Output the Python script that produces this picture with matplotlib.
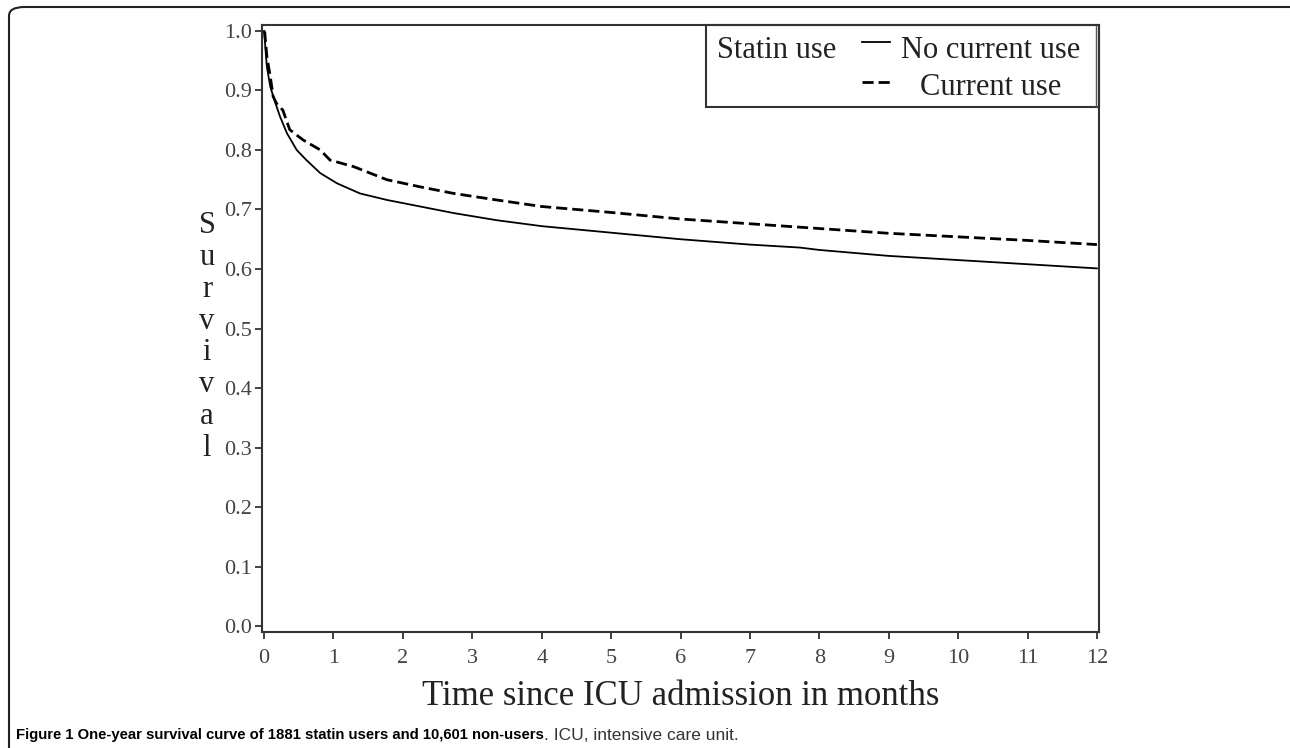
import matplotlib
matplotlib.use('Agg')
import matplotlib.pyplot as plt
from matplotlib.patches import FancyBboxPatch, Rectangle

# Kaplan-Meier estimates (months, survival)
t_no = [0, 0.04, 0.09, 0.16, 0.23, 0.33, 0.47, 0.61, 0.81, 1.05, 1.38, 1.77, 2.25,
        2.73, 3.35, 4, 5, 6, 7, 7.72, 8, 9, 10, 11, 12]
s_no = [1.0, 0.94, 0.906, 0.88, 0.856, 0.828, 0.80, 0.783, 0.761, 0.744, 0.727, 0.716,
        0.705, 0.694, 0.682, 0.672, 0.661, 0.650, 0.641, 0.636, 0.632, 0.622, 0.615,
        0.608, 0.601]

t_cur = [0, 0.01, 0.04, 0.09, 0.13, 0.18, 0.27, 0.37, 0.56, 0.81, 0.95, 1.29, 1.77,
         2.25, 2.73, 3.35, 4, 5, 6, 7, 8, 9, 10, 11, 12]
s_cur = [1.0, 0.997, 0.957, 0.923, 0.89, 0.878, 0.867, 0.834, 0.817, 0.80, 0.783, 0.772,
         0.75, 0.738, 0.727, 0.716, 0.705, 0.695, 0.684, 0.676, 0.668, 0.660, 0.654,
         0.648, 0.641]

xticks = list(range(0, 13))
yticks = [0.0, 0.1, 0.2, 0.3, 0.4, 0.5, 0.6, 0.7, 0.8, 0.9, 1.0]

serif = ['Liberation Serif', 'DejaVu Serif']
sans = ['Liberation Sans', 'DejaVu Sans']

fig = plt.figure(figsize=(12.9, 7.48), dpi=100)
ax = fig.add_axes([262/1290, 1 - 632/748, 837/1290, 607/748])

ax.plot(t_no, s_no, color='black', lw=1.3)
ax.plot(t_cur, s_cur, color='black', lw=2.0, dashes=(4, 1.8))

ax.set_xlim(-0.03, 12.03)
ax.set_ylim(-0.01, 1.01)
ax.set_xticks(xticks)
ax.set_xticklabels([str(v) for v in xticks])
ax.set_yticks(yticks)
ax.set_yticklabels(['%.1f' % v for v in yticks])
for s in ax.spines.values():
    s.set_color('#333333')
    s.set_linewidth(1.5)
ax.tick_params(direction='out', length=5, width=1.3, color='#333333',
               labelcolor='#444444', labelsize=16)
ax.tick_params(axis='y', pad=2)
ax.tick_params(axis='x', pad=7)
for lab in ax.get_xticklabels() + ax.get_yticklabels():
    lab.set_family(serif)

ax.set_xlabel('Time since ICU admission in months', family=serif, fontsize=25,
              color='#222222', labelpad=9)
fig.text(207/1290, 1 - 337/748, '\n'.join('Survival'), family=serif, fontsize=22,
         color='#222222', ha='center', va='center', linespacing=1.13)

# legend box drawn by hand (title sits to the left of the entries)
ax.add_patch(Rectangle((0.530, 0.865), 0.470, 0.135, transform=ax.transAxes,
                       fill=False, ec='#333333', lw=1.5, clip_on=False))
ax.plot([0.997, 0.997], [0.865, 1.0], transform=ax.transAxes, color='#555555',
        lw=1.0, clip_on=False)
ax.text(0.5436, 0.958, 'Statin use', transform=ax.transAxes, family=serif,
        fontsize=22, color='#222222', va='center', ha='left')
ax.plot([0.7168, 0.7503], [0.972, 0.972], transform=ax.transAxes, color='black',
        lw=1.3, clip_on=False)
ax.plot([0.7168, 0.7503], [0.906, 0.906], transform=ax.transAxes, color='black',
        lw=2.0, dashes=(4, 1.8), clip_on=False)
ax.text(0.871, 0.958, 'No current use', transform=ax.transAxes, family=serif,
        fontsize=22, color='#222222', va='center', ha='center')
ax.text(0.871, 0.897, 'Current use', transform=ax.transAxes, family=serif,
        fontsize=22, color='#222222', va='center', ha='center')

# outer frame of the figure panel
fig.patches.append(FancyBboxPatch((9/1290, -0.05), 1.1, 1 - 7/748 + 0.05,
                                  boxstyle='round,pad=0,rounding_size=0.012',
                                  transform=fig.transFigure, fill=False,
                                  ec='#222222', lw=1.5))

cap1 = fig.text(16/1290, 1 - 735/748, 'Figure 1 One-year survival curve of 1881 statin '
                'users and 10,601 non-users', family=sans, fontweight='bold',
                fontsize=10.7, va='center', ha='left')
fig.canvas.draw()
bb = cap1.get_window_extent(fig.canvas.get_renderer())
fig.text(bb.x1 / 1290, 1 - 735/748, '. ICU, intensive care unit.', family=sans,
         fontsize=12.5, color='#333333', va='center', ha='left')

fig.savefig('out.png', dpi=100)
